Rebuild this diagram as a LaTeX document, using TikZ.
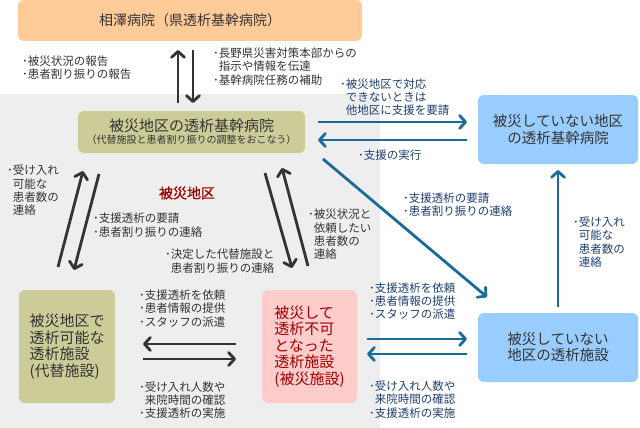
\documentclass[tikz,border=0pt]{standalone}
\usepackage{fontspec}
\setmainfont{Noto Sans CJK JP}
\newfontfamily\zonefont[FakeBold=1]{Noto Sans CJK JP}
\usetikzlibrary{arrows.meta}
\definecolor{cOrange}{HTML}{FFCC99}
\definecolor{cOlive}{HTML}{CCCC99}
\definecolor{cBlue}{HTML}{99CCFF}
\definecolor{cPink}{HTML}{FFCCCC}
\definecolor{cGray}{HTML}{EEEEEE}
\definecolor{cArrowBlue}{HTML}{1A6A9A}
\definecolor{cTextBlue}{HTML}{1F3F6F}
\definecolor{cDark}{HTML}{333333}
\definecolor{cRed}{HTML}{A00000}
\newcommand{\bl}{･}
\newcommand{\ind}{\phantom{･}}
\begin{document}
\begin{tikzpicture}[x=1pt,y=-1pt,
  lbl/.style={anchor=west, align=left, inner sep=0pt, font=\fontsize{11.5}{13.3}\selectfont, text=cDark},
  lblb/.style={lbl, text=cTextBlue},
  boxn/.style={rounded corners=6pt, inner sep=0pt, align=center, text=cDark},
  darr/.style={draw=cDark, line width=2.8pt, -{Straight Barb[length=6pt,width=13pt,round]}},
  barr/.style={darr, draw=cArrowBlue},
]
\useasboundingbox (0,0) rectangle (640,428);
\fill[cGray] (0,94) rectangle (380,428);

% boxes
\node[boxn, fill=cOrange, minimum width=344pt, minimum height=41pt, font=\fontsize{14}{17}\selectfont] (top) at (190,20.5) {相澤病院（県透析基幹病院）};
\node[boxn, fill=cOlive, minimum width=227pt, minimum height=42pt, font=\fontsize{15}{12}\selectfont] (hub) at (191.5,132) {被災地区の透析基幹病院\\{\fontsize{10}{12}\selectfont （代替施設と患者割り振りの調整をおこなう）}};
\node[boxn, fill=cBlue, minimum width=160pt, minimum height=69pt, font=\fontsize{14.5}{17}\selectfont] (nhub) at (558,129.5) {被災していない地区\\の透析基幹病院};
\node[boxn, fill=cOlive, minimum width=96pt, minimum height=113pt, font=\fontsize{15}{16.5}\selectfont, align=left] (alt) at (67,346.5) {被災地区で\\透析可能な\\透析施設\\(代替施設)};
\node[boxn, fill=cPink, minimum width=95pt, minimum height=113pt, font=\fontsize{15}{16.5}\selectfont, align=left, text=cRed] (dmg) at (309.5,346.5) {被災して\\透析不可\\となった\\透析施設\\(被災施設)};
\node[boxn, fill=cBlue, minimum width=160pt, minimum height=69pt, font=\fontsize{14.5}{16}\selectfont] (nfac) at (558,347.5) {被災していない\\地区の透析施設};

% arrow end points
\coordinate (d1a) at (178,103); \coordinate (d1b) at (178,50);
\coordinate (d2a) at (193,50);  \coordinate (d2b) at (193,103);
\coordinate (d3a) at (58,267);  \coordinate (d3b) at (83,171);
\coordinate (d4a) at (99,174);  \coordinate (d4b) at (74,270);
\coordinate (d5a) at (265,173); \coordinate (d5b) at (292,268);
\coordinate (d6a) at (308,266); \coordinate (d6b) at (282,168);
\coordinate (d7a) at (236,344); \coordinate (d7b) at (143,344);
\coordinate (d8a) at (143,359); \coordinate (d8b) at (236,359);
\coordinate (b1a) at (318,122); \coordinate (b1b) at (467,122);
\coordinate (b2a) at (467,140); \coordinate (b2b) at (318,140);
\coordinate (b3a) at (323,159); \coordinate (b3b) at (487,297);
\coordinate (b4a) at (558,307); \coordinate (b4b) at (558,170);
\coordinate (b5a) at (367,339); \coordinate (b5b) at (467,339);
\coordinate (b6a) at (467,354); \coordinate (b6b) at (367,354);

\draw[darr] (d1a) -- (d1b);
\draw[darr] (d2a) -- (d2b);
\draw[darr] (d3a) -- (d3b);
\draw[darr] (d4a) -- (d4b);
\draw[darr] (d5a) -- (d5b);
\draw[darr] (d6a) -- (d6b);
\draw[darr] (d7a) -- (d7b);
\draw[darr] (d8a) -- (d8b);
\draw[barr] (b1a) -- (b1b);
\draw[barr] (b2a) -- (b2b);
\draw[barr] (b3a) -- (b3b);
\draw[barr] (b4a) -- (b4b);
\draw[barr] (b5a) -- (b5b);
\draw[barr] (b6a) -- (b6b);

% labels
\node[lbl] (l1) at (22,67.5) {\bl 被災状況の報告\\\bl 患者割り振りの報告};
\node[lbl] (l2) at (213,66.5) {\bl 長野県災害対策本部からの\\\ind 指示や情報を伝達\\\bl 基幹病院任務の補助};
\node[lbl] (l3) at (7,190.5) {\bl 受け入れ\\\ind 可能な\\\ind 患者数の\\\ind 連絡};
\node[inner sep=0pt, font=\zonefont\fontsize{14}{14}\selectfont, text=cRed] (zone) at (187,193) {被災地区};
\node[lbl] (l4) at (93,225) {\bl 支援透析の要請\\\bl 患者割り振りの連絡};
\node[lbl] (l5) at (165,261) {\bl 決定した代替施設と\\\ind 患者割り振りの連絡};
\node[lbl] (l6) at (308,234.5) {\bl 被災状況と\\\ind 依頼したい\\\ind 患者数の\\\ind 連絡};
\node[lbl] (l7) at (139,308.5) {\bl 支援透析を依頼\\\bl 患者情報の提供\\\bl スタッフの派遣};
\node[lbl] (l8) at (139,400) {\bl 受け入れ人数や\\\ind 来院時間の確認\\\bl 支援透析の実施};
\node[lblb] (l9) at (340,97) {\bl 被災地区で対応\\\ind できないときは\\\ind 他地区に支援を要請};
\node[lblb] (l10) at (358,155) {\bl 支援の実行};
\node[lblb] (l11) at (403,204.5) {\bl 支援透析の要請\\\bl 患者割り振りの連絡};
\node[lblb] (l12) at (573,242) {\bl 受け入れ\\\ind 可能な\\\ind 患者数の\\\ind 連絡};
\node[lblb] (l13) at (369,301) {\bl 支援透析を依頼\\\bl 患者情報の提供\\\bl スタッフの派遣};
\node[lblb] (l14) at (369,399.5) {\bl 受け入れ人数や\\\ind 来院時間の確認\\\bl 支援透析の実施};
\end{tikzpicture}
\end{document}
